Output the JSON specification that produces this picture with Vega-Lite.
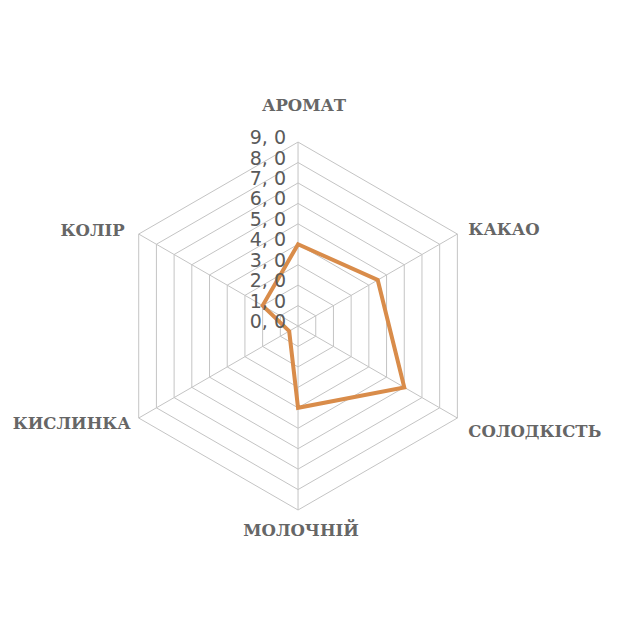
{
  "$schema": "https://vega.github.io/schema/vega-lite/v6.json",
  "width": 629,
  "height": 630,
  "autosize": "none",
  "padding": 0,
  "background": "white",
  "config": {"view": {"stroke": null}},
  "datasets": {
    "scores": [
      {"attr": "АРОМАТ", "idx": 0, "value": 4.0},
      {"attr": "КАКАО", "idx": 1, "value": 4.5},
      {"attr": "СОЛОДКІСТЬ", "idx": 2, "value": 6.0},
      {"attr": "МОЛОЧНІЙ", "idx": 3, "value": 4.0},
      {"attr": "КИСЛИНКА", "idx": 4, "value": 0.5},
      {"attr": "КОЛІР", "idx": 5, "value": 2.0}
    ],
    "levels": [
      {"level": 0, "lab": "0, 0", "k": []},
      {"level": 1, "lab": "1, 0", "k": [0, 1, 2, 3, 4, 5]},
      {"level": 2, "lab": "2, 0", "k": [0, 1, 2, 3, 4, 5]},
      {"level": 3, "lab": "3, 0", "k": [0, 1, 2, 3, 4, 5]},
      {"level": 4, "lab": "4, 0", "k": [0, 1, 2, 3, 4, 5]},
      {"level": 5, "lab": "5, 0", "k": [0, 1, 2, 3, 4, 5]},
      {"level": 6, "lab": "6, 0", "k": [0, 1, 2, 3, 4, 5]},
      {"level": 7, "lab": "7, 0", "k": [0, 1, 2, 3, 4, 5]},
      {"level": 8, "lab": "8, 0", "k": [0, 1, 2, 3, 4, 5]},
      {"level": 9, "lab": "9, 0", "k": [0, 1, 2, 3, 4, 5]}
    ]
  },
  "encoding": {
    "x": {"field": "x", "type": "quantitative", "scale": {"domain": [-14.58, 16.19], "nice": false, "zero": false}, "axis": null},
    "y": {"field": "y", "type": "quantitative", "scale": {"domain": [-14.87, 15.95], "nice": false, "zero": false}, "axis": null}
  },
  "layer": [
    {
      "data": {"name": "levels"},
      "transform": [
        {"flatten": ["k"]},
        {"calculate": "datum.level * sin(datum.k * PI / 3)", "as": "x"},
        {"calculate": "datum.level * cos(datum.k * PI / 3)", "as": "y"}
      ],
      "mark": {"type": "line", "interpolate": "linear-closed", "color": "#c4c4c4", "strokeWidth": 1},
      "encoding": {"detail": {"field": "level"}, "order": {"field": "k"}}
    },
    {
      "data": {"name": "scores"},
      "transform": [
        {"calculate": "9 * sin(datum.idx * PI / 3)", "as": "x"},
        {"calculate": "9 * cos(datum.idx * PI / 3)", "as": "y"}
      ],
      "mark": {"type": "rule", "color": "#c4c4c4", "strokeWidth": 1},
      "encoding": {"x2": {"datum": 0}, "y2": {"datum": 0}}
    },
    {
      "data": {"name": "scores"},
      "transform": [
        {"calculate": "datum.value * sin(datum.idx * PI / 3)", "as": "x"},
        {"calculate": "datum.value * cos(datum.idx * PI / 3)", "as": "y"}
      ],
      "mark": {"type": "line", "interpolate": "linear-closed", "color": "#D98C4A", "strokeWidth": 4, "strokeJoin": "miter"},
      "encoding": {"order": {"field": "idx"}}
    },
    {
      "data": {"name": "levels"},
      "transform": [
        {"calculate": "0", "as": "x"},
        {"calculate": "datum.level", "as": "y"}
      ],
      "mark": {"type": "text", "align": "right", "baseline": "middle", "dx": -12, "dy": -4, "font": "DejaVu Sans", "fontSize": 19, "color": "#5a5a5a"},
      "encoding": {"text": {"field": "lab"}}
    },
    {
      "data": {"name": "scores"},
      "transform": [
        {"filter": "datum.idx == 0"},
        {"calculate": "9 * sin(datum.idx * PI / 3)", "as": "x"},
        {"calculate": "9 * cos(datum.idx * PI / 3)", "as": "y"}
      ],
      "mark": {"type": "text", "align": "center", "baseline": "middle", "dx": 6, "dy": -36, "font": "DejaVu Serif", "fontWeight": "bold", "fontSize": 16.5, "color": "#666666"},
      "encoding": {"text": {"field": "attr"}}
    },
    {
      "data": {"name": "scores"},
      "transform": [
        {"filter": "datum.idx == 1"},
        {"calculate": "9 * sin(datum.idx * PI / 3)", "as": "x"},
        {"calculate": "9 * cos(datum.idx * PI / 3)", "as": "y"}
      ],
      "mark": {"type": "text", "align": "left", "baseline": "middle", "dx": 11, "dy": -4, "font": "DejaVu Serif", "fontWeight": "bold", "fontSize": 16.5, "color": "#666666"},
      "encoding": {"text": {"field": "attr"}}
    },
    {
      "data": {"name": "scores"},
      "transform": [
        {"filter": "datum.idx == 2"},
        {"calculate": "9 * sin(datum.idx * PI / 3)", "as": "x"},
        {"calculate": "9 * cos(datum.idx * PI / 3)", "as": "y"}
      ],
      "mark": {"type": "text", "align": "left", "baseline": "middle", "dx": 11, "dy": 14, "font": "DejaVu Serif", "fontWeight": "bold", "fontSize": 16.5, "color": "#666666"},
      "encoding": {"text": {"field": "attr"}}
    },
    {
      "data": {"name": "scores"},
      "transform": [
        {"filter": "datum.idx == 3"},
        {"calculate": "9 * sin(datum.idx * PI / 3)", "as": "x"},
        {"calculate": "9 * cos(datum.idx * PI / 3)", "as": "y"}
      ],
      "mark": {"type": "text", "align": "center", "baseline": "middle", "dx": 3, "dy": 21, "font": "DejaVu Serif", "fontWeight": "bold", "fontSize": 16.5, "color": "#666666"},
      "encoding": {"text": {"field": "attr"}}
    },
    {
      "data": {"name": "scores"},
      "transform": [
        {"filter": "datum.idx == 4"},
        {"calculate": "9 * sin(datum.idx * PI / 3)", "as": "x"},
        {"calculate": "9 * cos(datum.idx * PI / 3)", "as": "y"}
      ],
      "mark": {"type": "text", "align": "right", "baseline": "middle", "dx": -8, "dy": 6, "font": "DejaVu Serif", "fontWeight": "bold", "fontSize": 16.5, "color": "#666666"},
      "encoding": {"text": {"field": "attr"}}
    },
    {
      "data": {"name": "scores"},
      "transform": [
        {"filter": "datum.idx == 5"},
        {"calculate": "9 * sin(datum.idx * PI / 3)", "as": "x"},
        {"calculate": "9 * cos(datum.idx * PI / 3)", "as": "y"}
      ],
      "mark": {"type": "text", "align": "right", "baseline": "middle", "dx": -14, "dy": -3, "font": "DejaVu Serif", "fontWeight": "bold", "fontSize": 16.5, "color": "#666666"},
      "encoding": {"text": {"field": "attr"}}
    }
  ]
}
